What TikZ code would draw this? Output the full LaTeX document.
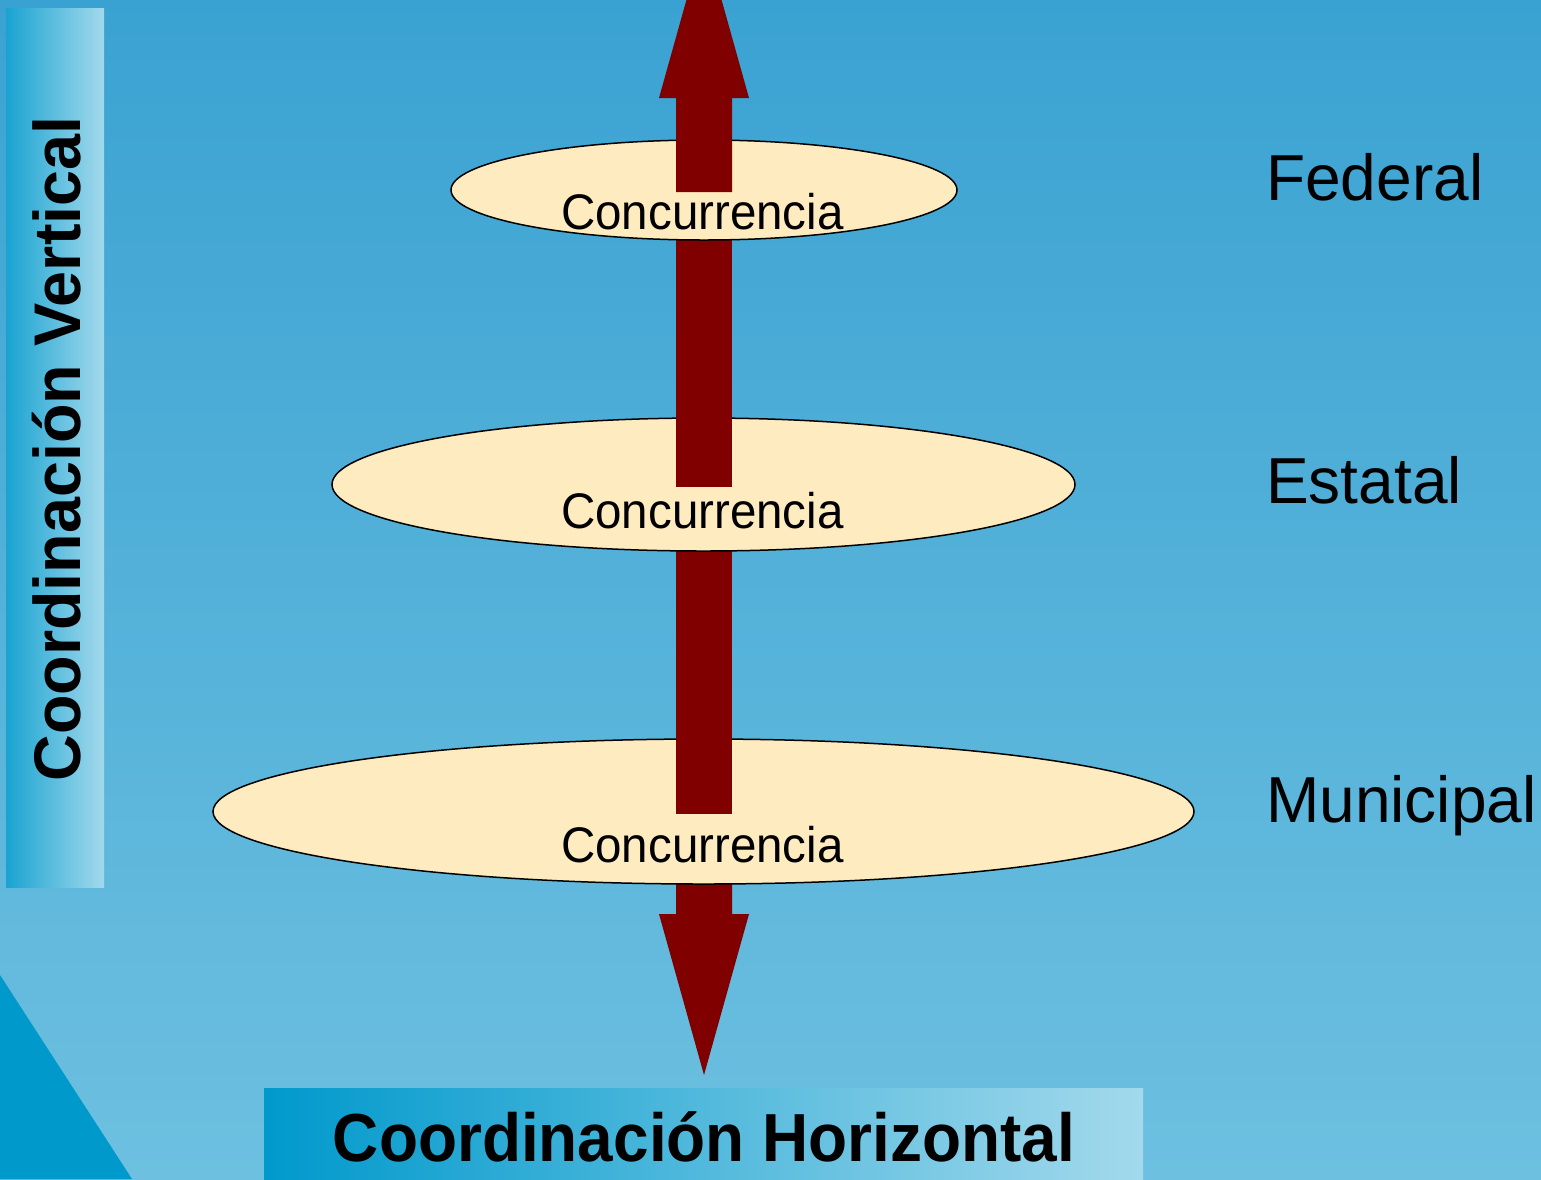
\documentclass[tikz,border=0pt]{standalone}
\usepackage{fontspec}
\setmainfont{Liberation Sans}
\usetikzlibrary{shapes.geometric}
\definecolor{bgtop}{RGB}{58,162,210}
\definecolor{bgbot}{RGB}{109,192,224}
\definecolor{deepblue}{RGB}{0,153,204}
\definecolor{barlight}{RGB}{163,217,236}
\definecolor{cream}{RGB}{255,235,192}
\definecolor{arrowred}{RGB}{128,0,0}
\tikzset{
  level/.style={ellipse, draw=black, line width=1.5pt, fill=cream, inner sep=0pt},
  conc/.style={anchor=base, inner sep=0pt, font=\fontsize{50}{60}\selectfont, xscale=0.95},
  lvlabel/.style={anchor=base west, inner sep=0pt, font=\fontsize{65}{78}\selectfont, xscale=0.985},
  shaft/.style={fill=arrowred, draw=none}
}
\begin{document}
\begin{tikzpicture}[x=1pt,y=-1pt]
\useasboundingbox (0,0) rectangle (1541,1179);
% background
\shade[top color=bgtop, bottom color=bgbot] (0,0) rectangle (1541,1179);
\fill[deepblue] (0,975) -- (132,1179) -- (0,1179) -- cycle;
% side bars
\shade[left color=deepblue!90!white, right color=barlight] (6,8) rectangle (104,887);
\shade[left color=deepblue, right color=barlight] (264,1088) rectangle (1143,1179);
\node[rotate=90, anchor=base, inner sep=0pt, font=\bfseries\fontsize{66}{80}\selectfont, xscale=0.98] (cv) at (80,449) {Coordinación Vertical};
\node[anchor=base, inner sep=0pt, font=\bfseries\fontsize{68}{82}\selectfont, xscale=0.94] (ch) at (704,1161) {Coordinación Horizontal};
% level labels
\node[lvlabel] (lf) at (1266,200) {Federal};
\node[lvlabel] (le) at (1266,503) {Estatal};
\node[lvlabel] (lm) at (1266,822) {Municipal};
% down arrow
\fill[shaft] (676,860) -- (676,914) -- (659,914) -- (704,1075) -- (749,914) -- (732,914) -- (732,860) -- cycle;
% municipal
\node[level, minimum width=981pt, minimum height=145pt] (mun) at (703.5,811.5) {};
\fill[shaft] (676,530) rectangle (732,814);
% estatal
\node[level, minimum width=743pt, minimum height=133pt] (est) at (703.5,484.5) {};
\fill[shaft] (676,220) rectangle (732,487);
% federal
\node[level, minimum width=506pt, minimum height=100pt] (fed) at (704,190) {};
\fill[shaft] (676,192) -- (676,98) -- (659,98) -- (686.4,0) -- (721.6,0) -- (749,98) -- (732,98) -- (732,192) -- cycle;
% texts
\node[conc] (cf) at (702.5,229) {Concurrencia};
\node[conc] (ce) at (702.5,528) {Concurrencia};
\node[conc] (cm) at (702.5,862) {Concurrencia};
\end{tikzpicture}
\end{document}
